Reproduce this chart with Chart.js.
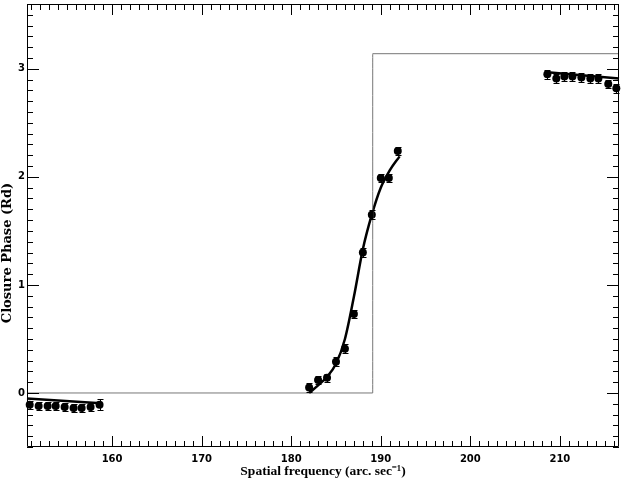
<!DOCTYPE html>
<html>
<head>
<meta charset="utf-8">
<script src="https://cdn.jsdelivr.net/npm/chart.js@4.4.1/dist/chart.umd.min.js"></script>
<style>
  html, body { margin: 0; padding: 0; background: #fff; }
  #wrap { width: 623px; height: 478px; }
</style>
</head>
<body>
<div id="wrap"><canvas id="phaseChart" width="623" height="478"></canvas></div>
<script>
// measured closure phases (three groups)
const leftFreq = [150.8, 151.8, 152.8, 153.7, 154.7, 155.7, 156.6, 157.6, 158.6];
const leftPhase = [-0.11, -0.12, -0.12, -0.12, -0.13, -0.14, -0.14, -0.13, -0.11];
const leftErr = [0.04, 0.04, 0.04, 0.04, 0.04, 0.04, 0.04, 0.04, 0.05];

const midFreq = [182.0, 183.0, 184.0, 185.0, 186.0, 187.0, 188.0, 189.0, 190.0, 190.9, 191.9];
const midPhase = [0.05, 0.12, 0.14, 0.29, 0.41, 0.73, 1.30, 1.65, 1.99, 1.99, 2.24];
const midErr = [0.04, 0.04, 0.04, 0.04, 0.04, 0.04, 0.04, 0.04, 0.04, 0.04, 0.04];

const rightFreq = [208.6, 209.6, 210.5, 211.4, 212.4, 213.4, 214.3, 215.4, 216.3];
const rightPhase = [2.95, 2.91, 2.93, 2.93, 2.92, 2.91, 2.91, 2.86, 2.82];
const rightErr = [0.04, 0.04, 0.04, 0.04, 0.04, 0.04, 0.04, 0.04, 0.04];

// model curves
const leftFitFreq = [150.5, 158.7];
const leftFitPhase = [-0.05, -0.095];
const midFitFreq = [182.0, 183.0, 184.0, 185.0, 186.0, 187.0, 188.0, 189.0, 190.0, 191.0, 192.1];
const midFitPhase = [0.0, 0.07, 0.15, 0.27, 0.50, 0.89, 1.33, 1.65, 1.90, 2.06, 2.19];
const rightFitFreq = [208.3, 216.6];
const rightFitPhase = [2.97, 2.91];

// step model (0 -> pi)
const stepFreq = [150.5, 189.1, 189.1, 216.6];
const stepPhase = [0, 0, 3.14, 3.14];

const xMin = 150.5, xMax = 216.6;
const yMin = -0.5, yMax = 3.6;
const yTitle = "Closure Phase (Rd)";

const pts = (xs, ys) => xs.map((x, i) => ({ x: x, y: ys[i] }));

const lineSet = (xs, ys, width, color) => ({
    data: pts(xs, ys),
    showLine: true,
    borderColor: color,
    borderWidth: width,
    pointRadius: 0,
    tension: 0.4,
    cubicInterpolationMode: "monotone",
});

const pointSet = (xs, ys, errs) => ({
    data: pts(xs, ys),
    errors: errs,
    showLine: false,
    pointRadius: 4,
    pointBackgroundColor: "#000",
    pointBorderColor: "#000",
    pointBorderWidth: 0,
});

// vertical error bars with caps
const errorBars = {
    id: "errorBars",
    afterDatasetsDraw(chart) {
        const { ctx, scales } = chart;
        ctx.save();
        ctx.strokeStyle = "#000";
        ctx.lineWidth = 1;
        chart.data.datasets.forEach((ds) => {
            if (!ds.errors) return;
            ds.data.forEach((p, i) => {
                const px = Math.round(scales.x.getPixelForValue(p.x)) + 0.5;
                const top = Math.round(scales.y.getPixelForValue(p.y + ds.errors[i])) + 0.5;
                const bot = Math.round(scales.y.getPixelForValue(p.y - ds.errors[i])) + 0.5;
                ctx.beginPath();
                ctx.moveTo(px, top);
                ctx.lineTo(px, bot);
                ctx.moveTo(px - 3, top);
                ctx.lineTo(px + 3, top);
                ctx.moveTo(px - 3, bot);
                ctx.lineTo(px + 3, bot);
                ctx.stroke();
            });
        });
        ctx.restore();
    },
};

// frame + inward ticks on all four sides, y title
const frameTicks = {
    id: "frameTicks",
    afterDraw(chart) {
        const { ctx, chartArea: a, scales } = chart;
        ctx.save();
        ctx.strokeStyle = "#000";
        ctx.lineWidth = 1;
        ctx.beginPath();
        ctx.rect(Math.round(a.left) + 0.5, Math.round(a.top) + 0.5,
            Math.round(a.right - a.left) - 1, Math.round(a.bottom - a.top) - 1);
        ctx.stroke();

        ctx.beginPath();
        for (let v = Math.ceil(xMin); v <= Math.floor(xMax); v++) {
            const px = Math.round(scales.x.getPixelForValue(v)) + 0.5;
            const len = v % 10 === 0 ? 11 : 6;
            ctx.moveTo(px, a.bottom);
            ctx.lineTo(px, a.bottom - len);
            ctx.moveTo(px, a.top);
            ctx.lineTo(px, a.top + len);
        }
        for (let k = -5; k <= 36; k++) {
            const py = Math.round(scales.y.getPixelForValue(k / 10)) + 0.5;
            const len = k % 10 === 0 ? 12 : 6;
            ctx.moveTo(a.left, py);
            ctx.lineTo(a.left + len, py);
            ctx.moveTo(a.right, py);
            ctx.lineTo(a.right - len, py);
        }
        ctx.stroke();

        // y title, sized to the original's length, sitting a bit below mid-axis
        ctx.font = "bold 12px 'DejaVu Serif'";
        const w12 = ctx.measureText(yTitle).width;
        const size = Math.min(13, 12 * 147 / w12);
        ctx.font = "bold " + size.toFixed(2) + "px 'DejaVu Serif'";
        ctx.fillStyle = "#000";
        ctx.translate(8, 253);
        ctx.rotate(-Math.PI / 2);
        ctx.textAlign = "center";
        ctx.textBaseline = "middle";
        ctx.fillText(yTitle, 0, 0);
        ctx.restore();
    },
};

const labelFont = { family: "DejaVu Sans", size: 10, weight: "bold" };
const titleFont = { family: "Liberation Serif", size: 13.5, weight: "bold" };

new Chart(document.getElementById("phaseChart"), {
    type: "scatter",
    data: {
        datasets: [
            lineSet(stepFreq, stepPhase, 1, "#777"),
            pointSet(leftFreq, leftPhase, leftErr),
            pointSet(midFreq, midPhase, midErr),
            pointSet(rightFreq, rightPhase, rightErr),
            lineSet(leftFitFreq, leftFitPhase, 2.5, "#000"),
            lineSet(midFitFreq, midFitPhase, 2.5, "#000"),
            lineSet(rightFitFreq, rightFitPhase, 2.5, "#000"),
        ],
    },
    options: {
        responsive: false,
        animation: false,
        clip: false,
        layout: { padding: { top: 3, right: 3, left: 0, bottom: 0 } },
        plugins: {
            legend: { display: false },
            tooltip: { enabled: false },
        },
        scales: {
            x: {
                type: "linear",
                min: xMin,
                max: xMax,
                grid: { display: false, drawTicks: false },
                border: { display: false },
                ticks: {
                    stepSize: 10,
                    includeBounds: false,
                    padding: 6,
                    color: "#000",
                    font: labelFont,
                    maxRotation: 0,
                },
                title: {
                    display: true,
                    text: "Spatial frequency (arc. sec\u207B\u00B9)",
                    color: "#000",
                    font: titleFont,
                    padding: { top: 0, bottom: -2 },
                },
                afterFit: (s) => {
                    s.height = 31;
                    s.paddingLeft = 0;
                    s.paddingRight = 0;
                },
            },
            y: {
                type: "linear",
                min: yMin,
                max: yMax,
                grid: { display: false, drawTicks: false },
                border: { display: false },
                ticks: {
                    stepSize: 1,
                    includeBounds: false,
                    padding: 2,
                    color: "#000",
                    font: labelFont,
                },
                title: { display: false },
                afterFit: (s) => {
                    s.width = 27;
                    s.paddingTop = 0;
                    s.paddingBottom = 0;
                },
            },
        },
    },
    plugins: [errorBars, frameTicks],
});
</script>
</body>
</html>
